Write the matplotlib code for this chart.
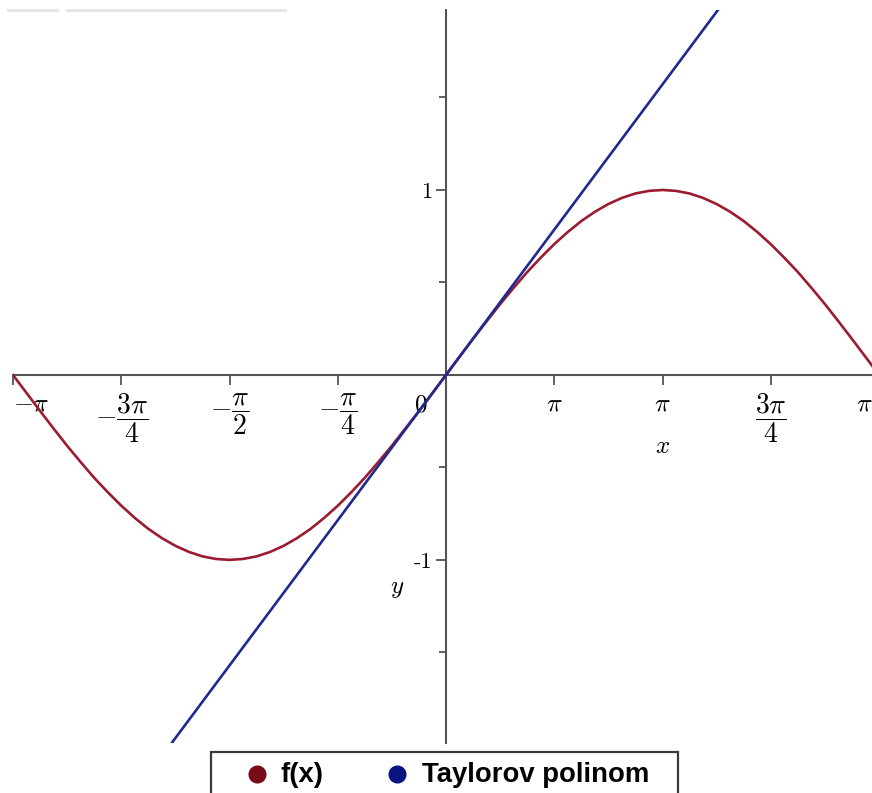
import numpy as np
import matplotlib
matplotlib.use("Agg")
import matplotlib.pyplot as plt
from matplotlib.lines import Line2D
from matplotlib.patches import Rectangle
from matplotlib.transforms import ScaledTranslation

plt.rcParams['mathtext.fontset'] = 'cm'

# ---- data ----
f_x = [-3.142, -3.043, -2.945, -2.847, -2.749, -2.651, -2.553, -2.454,
       -2.356, -2.258, -2.160, -2.062, -1.963, -1.865, -1.767, -1.669,
       -1.571, -1.473, -1.374, -1.276, -1.178, -1.080, -0.982, -0.884,
       -0.785, -0.687, -0.589, -0.491, -0.393, -0.295, -0.196, -0.098,
       0.0,
       0.098, 0.196, 0.295, 0.393, 0.491, 0.589, 0.687, 0.785,
       0.884, 0.982, 1.080, 1.178, 1.276, 1.374, 1.473, 1.571,
       1.669, 1.767, 1.865, 1.963, 2.062, 2.160, 2.258, 2.356,
       2.454, 2.553, 2.651, 2.749, 2.847, 2.945, 3.043, 3.142]
f_y = [0.0, -0.098, -0.195, -0.290, -0.383, -0.471, -0.556, -0.634,
       -0.707, -0.773, -0.832, -0.882, -0.924, -0.957, -0.981, -0.995,
       -1.0, -0.995, -0.981, -0.957, -0.924, -0.882, -0.832, -0.773,
       -0.707, -0.634, -0.556, -0.471, -0.383, -0.290, -0.195, -0.098,
       0.0,
       0.098, 0.195, 0.290, 0.383, 0.471, 0.556, 0.634, 0.707,
       0.773, 0.832, 0.882, 0.924, 0.957, 0.981, 0.995, 1.0,
       0.995, 0.981, 0.957, 0.924, 0.882, 0.832, 0.773, 0.707,
       0.634, 0.556, 0.471, 0.383, 0.290, 0.195, 0.098, 0.0]
taylor_x = [-3.142, 3.142]
taylor_y = [-3.142, 3.142]

x_ticks = [-np.pi, -3*np.pi/4, -np.pi/2, -np.pi/4, np.pi/4, np.pi/2, 3*np.pi/4, np.pi]
x_tick_labels = [r'$-\pi$', r'$-\dfrac{3\pi}{4}$', r'$-\dfrac{\pi}{2}$', r'$-\dfrac{\pi}{4}$',
                 r'$\pi$', r'$\pi$', r'$\dfrac{3\pi}{4}$', r'$\pi$']
y_major = [-1, 1]
y_major_labels = ['-1', '1']
y_minor = [-1.5, -0.5, 0.5, 1.5]
legend_labels = ['f(x)', 'Taylorov polinom']

W, H = 872, 793
fig = plt.figure(figsize=(W/100, H/100), dpi=100)
ax = fig.add_axes([13/W, 50/H, 866/W, 733/H])
ax.set_xlim(-np.pi, np.pi)
ax.set_ylim(-1.99, 1.973)

red = '#9b1c30'
blue = '#1f2a8e'
ax.plot(f_x, f_y, color=red, lw=1.9, zorder=3, solid_joinstyle='round')
ax.plot(taylor_x, taylor_y, color=blue, lw=1.9, zorder=4)

axcol = '#555555'
for s in ['top', 'right']:
    ax.spines[s].set_visible(False)
ax.spines['left'].set_position(('data', 0))
ax.spines['bottom'].set_position(('data', 0))
for s in ['left', 'bottom']:
    ax.spines[s].set_color(axcol)
    ax.spines[s].set_linewidth(1.5)

ax.set_xticks(x_ticks)
ax.set_xticklabels(x_tick_labels, fontsize=18.5)
ax.tick_params(axis='x', direction='out', length=7, width=1.3, color=axcol, pad=4.5)
labs = ax.get_xticklabels()
labs[0].set_ha('left')
labs[-1].set_ha('right')
labs[-1].set_transform(labs[-1].get_transform() +
                       ScaledTranslation(-6/100, 0, fig.dpi_scale_trans))
for i in (1, 2, 3, 6):
    labs[i].set_fontsize(20)

ax.set_yticks(y_major)
ax.set_yticklabels(y_major_labels, fontsize=16, family='cmr10')
ax.set_yticks(y_minor, minor=True)
ax.tick_params(axis='y', which='major', direction='out', length=7, width=1.3, color=axcol, pad=3)
ax.tick_params(axis='y', which='minor', direction='out', length=5, width=1.3, color=axcol)

ax.text(-0.18, -0.16, r'$0$', fontsize=18, ha='center', va='center')
ax.text(np.pi/2, -0.385, r'$x$', fontsize=18, ha='center', va='center')
ax.text(-0.356, -1.15, r'$y$', fontsize=18, ha='center', va='center')

# faint line at the top (screenshot artefact)
for x0, x1 in [(8, 57), (67, 285)]:
    fig.add_artist(Line2D([x0/W, x1/W], [1-10/H, 1-10/H], color='#e6e6e6', lw=2.2,
                          transform=fig.transFigure))

# legend box
fig.add_artist(Rectangle((211/W, -0.05), (678-211)/W, 0.05 + (H-752)/H, transform=fig.transFigure,
                         fill=False, edgecolor='#3a3a3a', lw=1.6))
handles = [('#7a0a16', 257, 280), ('#0a1480', 397, 422)]
for (col, mx, tx), lab in zip(handles, legend_labels):
    fig.add_artist(Line2D([mx/W], [1-774/H], marker='o', ms=12, color=col, lw=0,
                          transform=fig.transFigure))
    fig.text(tx/W, 1-775/H, lab, fontsize=19.8, fontweight='bold', family='Liberation Sans',
             ha='left', va='center')

fig.savefig('out.png', dpi=100)
